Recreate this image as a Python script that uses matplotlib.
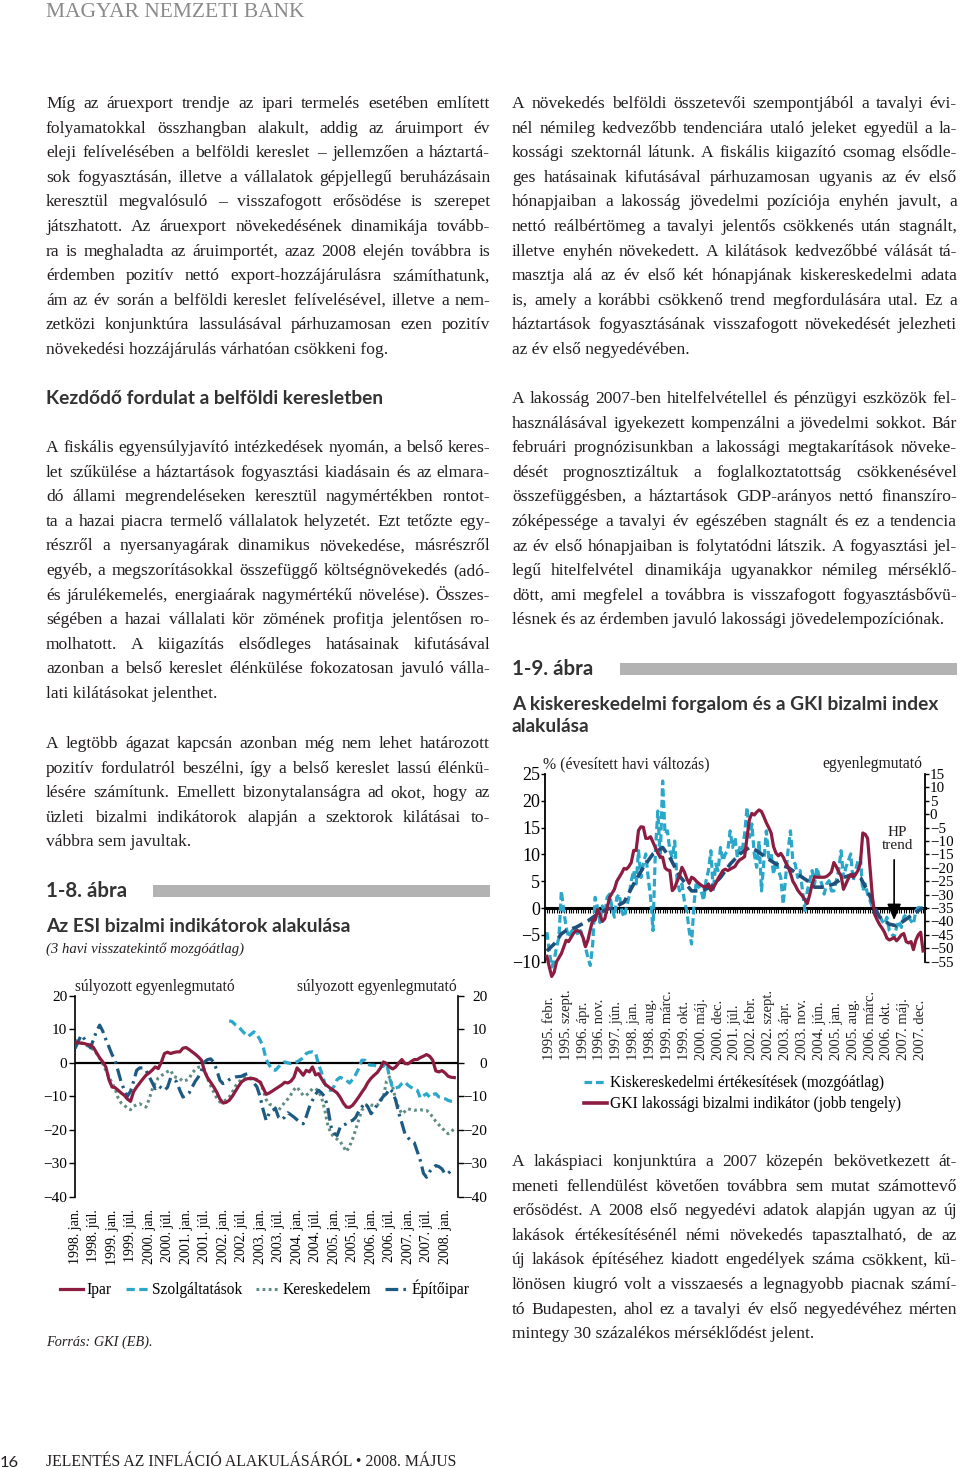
import matplotlib
matplotlib.use('Agg')
import matplotlib.pyplot as plt
from matplotlib.lines import Line2D
from matplotlib.patches import Rectangle
import numpy as np

# ---------------- data: chart 1-8 (monthly, from 1998 jan) ----------------
esi_ticklabels = ["1998. jan.", "1998. júl.", "1999. jan.", "1999. júl.", "2000. jan.", "2000. júl.",
                  "2001. jan.", "2001. júl.", "2002. jan.", "2002. júl.", "2003. jan.", "2003. júl.",
                  "2004. jan.", "2004. júl.", "2005. jan.", "2005. júl.", "2006. jan.", "2006. júl.",
                  "2007. jan.", "2007. júl.", "2008. jan."]
ipar = [6.3, 6.0, 5.9, 5.8, 5.5, 5.3, 4.6, 3.0, 1.5, 0.3, -1.2, -5.0, -7.2, -7.4, -8.2, -9.0, -9.7, -10.8,
        -11.5, -8.6, -7.2, -6.0, -4.8, -3.7, -3.0, -2.2, -1.2, -1.7, 0.2, 2.8, 3.2, 2.8, 3.1, 3.3, 3.3, 4.4,
        4.6, 4.0, 3.3, 2.6, 1.8, 0.8, -2.5, -4.5, -5.8, -7.2, -8.8, -10.8, -12.0, -11.8, -11.2, -10.0, -8.5,
        -7.0, -5.7, -5.0, -4.7, -4.7, -4.7, -5.2, -5.7, -7.5, -9.4, -9.0, -8.4, -7.8, -7.2, -6.6, -5.8, -6.0,
        -5.5, -4.3, -1.5, -2.5, -3.7, -2.2, -2.7, -1.2, -3.6, -3.2, -4.8, -6.3, -7.0, -7.7, -8.3, -9.0, -10.3,
        -12.0, -13.2, -13.3, -12.7, -11.5, -10.2, -8.8, -7.5, -5.8, -4.6, -3.7, -2.9, -1.6, 0.3, -0.2, -1.2,
        -1.8, -1.2, 0.0, 1.0, -0.2, -0.3, 0.4, 1.0, 1.0, 1.6, 2.0, 2.5, 2.0, 0.8, -2.4, -2.7, -2.3, -3.0,
        -4.0, -4.3, -4.4]
szolg_start = 50
szolg = [12.6, 12.3, 11.4, 10.8, 9.8, 8.8, 7.9, 8.5, 9.3, 8.5, 6.9, 4.8, 1.0, -0.7, -2.0, -2.2, -1.2,
         -0.2, 0.3, 0.0, -0.2, 0.1, 0.3, 0.9, 1.5, 2.8, 3.2, 3.3, 3.0, -0.5, -3.0, -6.0, -8.0, -8.2, -7.0,
         -5.0, -4.3, -4.8, -5.2, -6.0, -5.0, -3.5, -1.7, 0.8, 0.8, -0.5, -0.7, -0.7, -1.0, -1.2, -1.0, 0.3,
         -4.5, -7.5, -7.5, -7.2, -6.2, -5.7, -6.7, -7.3, -7.8, -8.2, -10.5, -9.8, -9.2, -10.2, -9.5, -9.2,
         -10.2, -10.4, -10.7, -11.2, -11.5, -11.7]
keresk = [6.8, 6.3, 6.0, 5.5, 5.1, 4.8, 3.8, 2.8, 1.4, -0.3, -2.2, -4.2, -6.0, -7.7, -10.5, -12.0, -12.7,
          -13.5, -14.0, -13.0, -12.5, -12.2, -12.8, -13.2, -11.0, -8.0, -6.0, -4.5, -3.8, -3.2, -2.6, -2.2,
          -4.0, -4.4, -4.7, -5.5, -5.2, -4.7, -3.0, -2.0, -1.3, -1.2, -2.0, -4.8, -6.8, -8.8, -10.5, -11.7,
          -11.7, -11.0, -10.2, -8.8, -7.0, -5.8, -5.0, -4.3, -4.2, -4.5, -4.7, -5.0, -5.2, -8.0, -11.0,
          -12.3, -12.7, -13.5, -14.2, -13.0, -11.8, -10.8, -9.5, -8.0, -7.2, -8.5, -9.7, -9.7, -8.8, -7.7,
          -7.7, -8.5, -10.5, -14.0, -18.8, -21.0, -22.2, -22.8, -23.5, -25.0, -26.5, -25.0, -22.8, -20.0,
          -17.0, -14.2, -13.0, -12.2, -12.6, -12.7, -12.7, -11.5, -10.2, -5.5, -4.2, -7.0, -11.0, -13.5,
          -15.2, -14.5, -13.7, -14.0, -14.2, -14.0, -14.0, -14.2, -14.2, -15.0, -16.2, -17.5, -18.5, -19.5,
          -20.3, -21.2, -20.5, -19.7]
epito = [4.3, 6.3, 8.3, 7.2, 5.8, 4.5, 7.0, 9.5, 11.3, 9.5, 7.0, 4.8, 2.5, 0.8, -2.5, -5.8, -8.2, -10.0,
         -8.5, -5.5, -2.2, -1.5, -1.5, -2.2, -4.0, -5.8, -7.7, -6.8, -7.5, -8.2, -7.3, -4.5, -5.0, -5.7,
         -8.2, -10.2, -9.8, -9.0, -7.2, -5.5, -4.2, -2.2, 0.3, 1.0, 1.2, 0.2, -2.2, -5.2, -6.2, -5.7, -5.0,
         -4.5, -4.2, -4.1, -4.0, -3.5, -3.2, -4.7, -6.0, -7.2, -10.0, -14.0, -17.2, -15.0, -14.2, -13.7,
         -16.2, -17.0, -16.2, -14.9, -15.5, -16.2, -17.0, -17.7, -18.2, -16.0, -13.2, -11.2, -9.4, -8.2,
         -9.0, -10.2, -13.5, -19.0, -21.0, -21.7, -19.2, -18.6, -18.2, -17.5, -17.2, -16.3, -14.5, -13.2,
         -12.0, -13.2, -15.2, -14.0, -12.5, -11.2, -10.0, -9.2, -7.7, -8.7, -11.2, -15.0, -18.0, -21.2,
         -22.4, -23.2, -23.8, -26.5, -29.2, -33.0, -34.2, -32.5, -31.5, -30.7, -31.0, -31.7, -33.2, -33.0,
         -32.2, -32.0]

# ---------------- data: chart 1-9 (monthly, from 1995 jan) ----------------
kisker_ticklabels = ["1995. febr.", "1995. szept.", "1996. ápr.", "1996. nov.", "1997. jún.", "1998. jan.",
                     "1998. aug.", "1999. márc.", "1999. okt.", "2000. máj.", "2000. dec.", "2001. júl.",
                     "2002. febr.", "2002. szept.", "2003. ápr.", "2003. nov.", "2004. jún.", "2005. jan.",
                     "2005. aug.", "2006. márc.", "2006. okt.", "2007. máj.", "2007. dec."]
kisker = [-4.5, -8.0, -11.0, -9.8, -7.3, -5.5, 3.2, -0.5, -3.6, -5.5,
          -4.5, -3.9, -3.6, -5.2, -4.2, -5.5, -7.3, -9.2, -10.7, -6.7,
          2.0, 0.1, -2.7, 0.4, -1.1, 2.0, 2.6, 0.1, -1.7, 2.0,
          2.6, -0.5, -1.7, 0.1, 2.0, 5.1, 7.0, 4.5, 10.7, 5.7,
          8.2, 10.1, 5.7, 2.0, -4.2, 10.7, 18.1, 9.4, 23.7, 13.8,
          14.4, 10.7, 9.4, 12.5, 5.1, 3.2, 4.5, 1.4, -0.5, -4.2,
          -6.7, 0.7, 5.1, 3.9, 3.2, 1.4, 5.1, 7.0, 10.7, 3.2,
          8.2, 7.0, 11.3, 8.8, 10.1, 10.7, 14.4, 11.3, 13.2, 9.4,
          11.3, 10.7, 13.8, 18.8, 13.2, 15.7, 10.1, 7.6, 12.5, 3.2,
          8.8, 14.4, 9.4, 10.1, 6.3, 8.8, 7.0, 5.7, 0.7, 5.7,
          10.7, 14.4, 8.8, 8.2, 5.7, 7.0, 3.2, -0.5, 3.2, 5.1,
          7.0, 4.5, 7.6, 5.7, 4.5, 2.6, 4.5, 5.1, 3.2, 3.2,
          5.1, 7.0, 10.7, 5.7, 7.6, 8.8, 10.1, 5.1, 7.0, 8.8,
          9.4, 3.2, 4.5, 2.6, 1.4, 0.1, -1.1, -1.7, -1.4, -2.4,
          -3.0, -1.7, -4.2, -4.8, -5.5, -3.6, -2.4, -3.6, -1.7, -1.1,
          -1.7, -2.4, -3.0, -0.5, 0.1, 0.1]
hp_month = [0, 3, 6, 8, 12, 17, 21, 25, 28, 32, 36, 40, 44, 48, 51, 55, 60, 64, 68, 72, 76, 80, 84, 87,
            91, 95, 100, 104, 108, 111, 115, 119, 123, 127, 130, 133, 136, 138, 142, 145, 148, 151, 154, 156]
hp_trend = [-8, -6.7, -4.8, -4.2, -3.6, -2.4, -1.1, -0.2, 0.1, 1.1, 4.5, 7.6, 10.1, 11.3, 9.4, 6, 3.2, 3.2,
            3.9, 5.7, 8.2, 10.1, 11.3, 10.7, 9.4, 8.2, 7.6, 6.3, 5.1, 3.9, 3.9, 4.5, 5.7, 6.3, 5.7, 3.2, 0.1,
            -1.7, -3, -3.3, -2.4, -1.4, -0.5, 0.1]
gki = [-53, -57, -60.5, -59, -55, -53.5, -52, -49.5, -47, -47.5,
       -46, -44.5, -43.5, -43.5, -44, -46, -49.4, -47, -43, -39.5,
       -39.5, -35.5, -37.5, -40, -39, -35, -31, -29.5, -28, -25,
       -23.5, -22, -20.2, -20.5, -19.5, -18, -13.5, -13.5, -6, -4.7,
       -4.8, -9, -9, -8.4, -10.5, -12.5, -14.5, -16, -16, -20,
       -20.8, -21, -28.5, -27.5, -25, -23, -19.8, -21.5, -24, -25.8,
       -23.5, -24, -25, -25.8, -26.5, -27, -27, -26, -28.5, -27.5,
       -25.8, -24, -22.5, -21, -20.5, -21, -20.5, -20, -19.5, -18,
       -17, -16.5, -15.8, -8.5, -2, 0.3, -0.3, 0.8, 1.6, 1.0,
       -1, -3.2, -5, -7, -12.1, -14.5, -15.5, -14.6, -16, -18,
       -19.6, -22, -25, -26.5, -28.3, -29.5, -30.5, -32, -33.3, -30,
       -26, -23.3, -23.5, -23.5, -23.5, -23.5, -23.2, -22.5, -21.5, -18,
       -19.5, -21.5, -23, -28, -26, -24, -22.5, -23.5, -22.5, -21,
       -18.3, -7, -7.5, -9, -20, -31, -37.5, -39.5, -41.2, -42.5,
       -44, -46.2, -46.9, -46.5, -46, -47.2, -46.2, -45, -44.5, -47.5,
       -48, -47.5, -50.5, -47, -45, -44, -51]

# ---------------- text ----------------
left_p1 = ["Míg az áruexport trendje az ipari termelés esetében említett",
           "folyamatokkal összhangban alakult, addig az áruimport év",
           "eleji felívelésében a belföldi kereslet – jellemzően a háztartá-",
           "sok fogyasztásán, illetve a vállalatok gépjellegű beruházásain",
           "keresztül megvalósuló – visszafogott erősödése is szerepet",
           "játszhatott. Az áruexport növekedésének dinamikája tovább-",
           "ra is meghaladta az áruimportét, azaz 2008 elején továbbra is",
           "érdemben pozitív nettó export-hozzájárulásra számíthatunk,",
           "ám az év során a belföldi kereslet felívelésével, illetve a nem-",
           "zetközi konjunktúra lassulásával párhuzamosan ezen pozitív",
           "növekedési hozzájárulás várhatóan csökkeni fog."]
left_p2 = ["A fiskális egyensúlyjavító intézkedések nyomán, a belső keres-",
           "let szűkülése a háztartások fogyasztási kiadásain és az elmara-",
           "dó állami megrendeléseken keresztül nagymértékben rontot-",
           "ta a hazai piacra termelő vállalatok helyzetét. Ezt tetőzte egy-",
           "részről a nyersanyagárak dinamikus növekedése, másrészről",
           "egyéb, a megszorításokkal összefüggő költségnövekedés (adó-",
           "és járulékemelés, energiaárak nagymértékű növelése). Összes-",
           "ségében a hazai vállalati kör zömének profitja jelentősen ro-",
           "molhatott. A kiigazítás elsődleges hatásainak kifutásával",
           "azonban a belső kereslet élénkülése fokozatosan javuló válla-",
           "lati kilátásokat jelenthet."]
left_p3 = ["A legtöbb ágazat kapcsán azonban még nem lehet határozott",
           "pozitív fordulatról beszélni, így a belső kereslet lassú élénkü-",
           "lésére számítunk. Emellett bizonytalanságra ad okot, hogy az",
           "üzleti bizalmi indikátorok alapján a szektorok kilátásai to-",
           "vábbra sem javultak."]
right_p1 = ["A növekedés belföldi összetevői szempontjából a tavalyi évi-",
            "nél némileg kedvezőbb tendenciára utaló jeleket egyedül a la-",
            "kossági szektornál látunk. A fiskális kiigazító csomag elsődle-",
            "ges hatásainak kifutásával párhuzamosan ugyanis az év első",
            "hónapjaiban a lakosság jövedelmi pozíciója enyhén javult, a",
            "nettó reálbértömeg a tavalyi jelentős csökkenés után stagnált,",
            "illetve enyhén növekedett. A kilátások kedvezőbbé válását tá-",
            "masztja alá az év első két hónapjának kiskereskedelmi adata",
            "is, amely a korábbi csökkenő trend megfordulására utal. Ez a",
            "háztartások fogyasztásának visszafogott növekedését jelezheti",
            "az év első negyedévében."]
right_p2 = ["A lakosság 2007-ben hitelfelvétellel és pénzügyi eszközök fel-",
            "használásával igyekezett kompenzálni a jövedelmi sokkot. Bár",
            "februári prognózisunkban a lakossági megtakarítások növeke-",
            "dését prognosztizáltuk a foglalkoztatottság csökkenésével",
            "összefüggésben, a háztartások GDP-arányos nettó finanszíro-",
            "zóképessége a tavalyi év egészében stagnált és ez a tendencia",
            "az év első hónapjaiban is folytatódni látszik. A fogyasztási jel-",
            "legű hitelfelvétel dinamikája ugyanakkor némileg mérséklő-",
            "dött, ami megfelel a továbbra is visszafogott fogyasztásbővü-",
            "lésnek és az érdemben javuló lakossági jövedelempozíciónak."]
right_p3 = ["A lakáspiaci konjunktúra a 2007 közepén bekövetkezett át-",
            "meneti fellendülést követően továbbra sem mutat számottevő",
            "erősödést. A 2008 első negyedévi adatok alapján ugyan az új",
            "lakások értékesítésénél némi növekedés tapasztalható, de az",
            "új lakások építéséhez kiadott engedélyek száma csökkent, kü-",
            "lönösen kiugró volt a visszaesés a legnagyobb piacnak számí-",
            "tó Budapesten, ahol ez a tavalyi év első negyedévéhez mérten",
            "mintegy 30 százalékos mérséklődést jelent."]

# ---------------- setup ----------------
SERIF = 'Liberation Serif'
SANS = 'Lato'
plt.rcParams['font.family'] = SERIF
plt.rcParams['axes.unicode_minus'] = True

W, H = 960, 1468
fig = plt.figure(figsize=(9.6, 14.68), dpi=100)
fig.patch.set_facecolor('white')
renderer = fig.canvas.get_renderer()

TXT = '#231f20'
RED = '#8c1d40'
CYAN = '#2aa7c9'
GREEN = '#5f8d83'
NAVY = '#1d5a82'


def fx(x):
    return x / W


def fy(y):
    return 1 - y / H


def put(x, y, s, **kw):
    kw.setdefault('va', 'baseline')
    return fig.text(fx(x), fy(y), s, **kw)


def width(t):
    return t.get_window_extent(renderer).width


def fit(x0, x1, y, s, base=12, **kw):
    t = put(x0, y, s, fontsize=base, **kw)
    w = width(t)
    t.set_fontsize(base * (x1 - x0) / w)
    return t


def para(x0, x1, y0, lines, size=12.6, step=24.6):
    for i, line in enumerate(lines):
        y = y0 + i * step
        if i == len(lines) - 1:
            t = put(x0, y, line, fontsize=size, family=SERIF, color=TXT)
            if x0 + width(t) > x1:
                t.set_fontsize(size * (x1 - x0) / width(t))
            continue
        words = line.split(' ')
        ts = [put(x0, y, w_, fontsize=size, family=SERIF, color=TXT) for w_ in words]
        ws = [width(t) for t in ts]
        mingap = 3.6
        if (x1 - x0 - sum(ws)) / (len(words) - 1) < mingap:
            f = (x1 - x0 - mingap * (len(words) - 1)) / sum(ws)
            for t in ts:
                t.set_fontsize(size * f)
            ws = [width(t) for t in ts]
        gap = (x1 - x0 - sum(ws)) / (len(words) - 1)
        x = x0
        for t, w_ in zip(ts, ws):
            t.set_x(fx(x))
            x += w_ + gap


# header / footer
fit(46, 304, 17, "MAGYAR NEMZETI BANK", family=SERIF, color='#8a8a8a')
fit(0, 19, 1467, "16", family=SANS, color=TXT)
fit(46, 455, 1466, "JELENTÉS AZ INFLÁCIÓ ALAKULÁSÁRÓL • 2008. MÁJUS", family=SERIF, color=TXT)

# body text
para(46, 490, 108, left_p1)
fit(46, 381, 404, "Kezdődő fordulat a belföldi keresletben", family=SANS, weight='bold', color='#333333')
para(46, 490, 452, left_p2)
para(46, 490, 748, left_p3)
para(512, 957, 108, right_p1)
para(512, 957, 403, right_p2)
para(512, 957, 1166, right_p3)

# chart headings
fit(46, 127, 897, "1-8. ábra", family=SANS, weight='bold', color='#333333')
fig.add_artist(Rectangle((fx(153), fy(897)), (490 - 153) / W, 12 / H, transform=fig.transFigure,
                         facecolor='#b3b3b3', edgecolor='none'))
fit(46, 350, 932, "Az ESI bizalmi indikátorok alakulása", family=SANS, weight='bold', color='#333333')
fit(46, 244, 953, "(3 havi visszatekintő mozgóátlag)", family=SERIF, style='italic', color=TXT)
fit(46, 152, 1346, "Forrás: GKI (EB).", family=SERIF, style='italic', color=TXT)

fit(512, 593, 675, "1-9. ábra", family=SANS, weight='bold', color='#333333')
fig.add_artist(Rectangle((fx(620), fy(675)), (957 - 620) / W, 12 / H, transform=fig.transFigure,
                         facecolor='#b3b3b3', edgecolor='none'))
t_title = fit(512, 937, 710, "A kiskereskedelmi forgalom és a GKI bizalmi index", family=SANS,
              weight='bold', color='#333333')
put(512, 731.5, "alakulása", family=SANS, weight='bold', color='#333333', fontsize=t_title.get_fontsize())

# ---------------- chart 1-8 ----------------
top1, bot1 = 996.0, 1196.7
ax1 = fig.add_axes([fx(75), fy(bot1), (458 - 75) / W, (bot1 - top1) / H])
ax1.set_xlim(0, 124.2)
ax1.set_ylim(-40, 20)
ax1.axhline(0, color='black', lw=1.6, zorder=1)
l_ker, = ax1.plot(np.arange(len(keresk)), keresk, color=GREEN, lw=2.2, ls=(0, (0.9, 1.1)), zorder=2)
l_epi, = ax1.plot(np.arange(len(epito)), epito, color=NAVY, lw=2.3, ls=(0, (4, 1.6, 0.8, 1.6)), zorder=3)
l_szo, = ax1.plot(np.arange(szolg_start, szolg_start + len(szolg)), szolg, color=CYAN, lw=2.3,
                  ls=(0, (2.6, 1.4)), zorder=3)
l_ipa, = ax1.plot(np.arange(len(ipar)), ipar, color=RED, lw=2.3, zorder=4)
for s in ['top', 'bottom', 'right']:
    ax1.spines[s].set_visible(False)
ax1.spines['left'].set_linewidth(1.2)
ax1.set_yticks(np.arange(-40, 21, 10))
ax1.tick_params(axis='y', direction='out', length=4, width=1.0, labelsize=11, pad=1.5)
ax1.set_xticks(np.arange(0, 121, 6))
ax1.set_xticklabels(esi_ticklabels, rotation=90, fontsize=10)
ax1.tick_params(axis='x', length=0, pad=9)

ax1r = ax1.twinx()
ax1r.set_ylim(-40, 20)
for s in ['top', 'bottom', 'left']:
    ax1r.spines[s].set_visible(False)
ax1r.spines['right'].set_linewidth(1.2)
ax1r.set_yticks(np.arange(-40, 21, 10))
ax1r.tick_params(axis='y', direction='out', length=4, width=1.0, labelsize=11, pad=17)
for lab in ax1r.get_yticklabels():
    lab.set_horizontalalignment('right')

put(75, 991, "súlyozott egyenlegmutató", fontsize=11.2, color=TXT)
put(457, 991, "súlyozott egyenlegmutató", fontsize=11.2, color=TXT, ha='right')

fig.legend([l_ipa, l_szo, l_ker, l_epi], ["Ipar", "Szolgáltatások", "Kereskedelem", "Építőipar"],
           loc='center left', bbox_to_anchor=(fx(60), fy(1289)), ncol=4, frameon=False,
           prop={'family': SERIF, 'size': 11.2}, handlelength=1.45, handletextpad=0.25,
           columnspacing=0.9, borderpad=0, borderaxespad=0)

# ---------------- chart 1-9 ----------------
y25, ym10 = 774.0, 961.7
ppu = (ym10 - y25) / 35.0
ylo, yhi = -13.0, 25.5
top2 = y25 - (yhi - 25) * ppu
bot2 = ym10 + (ylo + 10) * -ppu
ax2 = fig.add_axes([fx(545), fy(bot2), (925 - 545) / W, (bot2 - top2) / H])
ax2.set_xlim(-0.78, 156.8)
ax2.set_ylim(ylo, yhi)
ax2r = ax2.twinx()
ax2r.set_ylim(2 * ylo - 35, 2 * yhi - 35)

ax2.plot(np.arange(len(kisker)), kisker, color=CYAN, lw=2.3, ls=(0, (2.4, 1.2)), zorder=2)
ax2.plot(hp_month, hp_trend, color='#1f4f7a', lw=2.6, ls=(0, (3.2, 1.6)), zorder=3)
ax2r.plot(np.arange(len(gki)), gki, color=RED, lw=2.3, zorder=4)

for a in (ax2, ax2r):
    for s in ['top', 'bottom']:
        a.spines[s].set_visible(False)
ax2.spines['right'].set_visible(False)
ax2r.spines['left'].set_visible(False)
ax2.spines['left'].set_linewidth(1.3)
ax2r.spines['right'].set_linewidth(1.3)
ax2.spines['left'].set_bounds(-10, 25)
ax2r.spines['right'].set_bounds(-55, 15)
ax2.set_xticks([])
ax2.set_yticks(np.arange(-10, 26, 5))
ax2.tick_params(axis='y', direction='out', length=3, width=1.0, labelsize=13, pad=0.5)
ax2r.set_yticks(np.arange(-55, 16, 5))
ax2r.tick_params(axis='y', direction='out', length=3, width=1.0, labelsize=10.8, pad=0.5)

frac0 = (0 - ylo) / (yhi - ylo)
sec = ax2.secondary_xaxis(frac0)
sec.set_xticks(np.arange(0, 157, 1))
sec.tick_params(axis='x', direction='out', length=3.5, width=0.8, labelbottom=False, labeltop=False)
sec.spines['bottom'].set_linewidth(2.2)

lab_frac = -(1060 - bot2) / (bot2 - top2)
for k, lab in enumerate(kisker_ticklabels):
    ax2.text(1 + 7 * k, lab_frac, lab, transform=ax2.get_xaxis_transform(), rotation=90,
             ha='center', va='bottom', fontsize=10.5, color=TXT)

ax2r.annotate("", xy=(144, -39.5), xytext=(144, -17.0),
              arrowprops=dict(arrowstyle='-|>,head_length=0.7,head_width=0.3', color='black', lw=1.2,
                              mutation_scale=14, shrinkA=0, shrinkB=0), zorder=6)
ax2.text(145.5, 12.9, "HP\ntrend", ha='center', va='center', fontsize=11, linespacing=1.0, color=TXT)

put(543, 768, "% (évesített havi változás)", fontsize=11.3, color=TXT)
put(922, 768, "egyenlegmutató", fontsize=11.3, color=TXT, ha='right')

h_c = Line2D([], [], color=CYAN, lw=2.3, ls=(0, (2.4, 1.2)))
h_r = Line2D([], [], color=RED, lw=2.6)
fig.legend([h_c, h_r], ["Kiskereskedelmi értékesítések (mozgóátlag)",
                        "GKI lakossági bizalmi indikátor (jobb tengely)"],
           loc='upper left', bbox_to_anchor=(fx(584), fy(1075)), ncol=1, frameon=False,
           prop={'family': SERIF, 'size': 11.2}, handlelength=1.45, handletextpad=0.25,
           labelspacing=0.35, borderpad=0, borderaxespad=0)

fig.savefig('out.png', dpi=100, facecolor='white')
